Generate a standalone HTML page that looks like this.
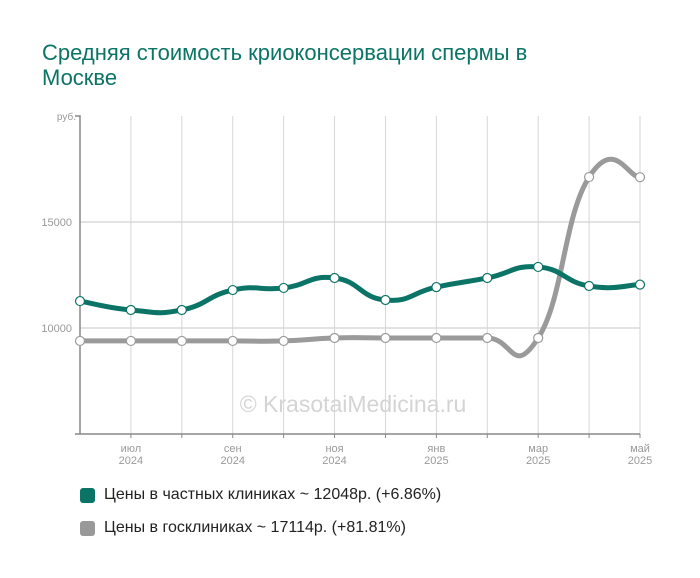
<!DOCTYPE html>
<html><head><meta charset="utf-8"><style>
body{margin:0;background:#fff;width:700px;height:578px;overflow:hidden;font-family:"Liberation Sans",sans-serif}
#title{position:absolute;left:42px;top:40px;width:545px;color:#0b7466;font-size:22px;line-height:25px;margin:0;font-weight:normal}
.leg{position:absolute;left:80px;font-size:16px;color:#222;display:flex;align-items:center}
.sw{width:15px;height:15px;border-radius:3px;margin-right:9px}
</style></head><body>
<h1 id="title">Средняя стоимость криоконсервации спермы в Москве</h1>
<svg id="chart" width="700" height="578" style="position:absolute;left:0;top:0"></svg>
<div class="leg" style="top:486px"><div class="sw" style="background:#0b7466"></div>Цены в частных клиниках ~ 12048р. (+6.86%)</div>
<div class="leg" style="top:519px"><div class="sw" style="background:#999"></div>Цены в госклиниках ~ 17114р. (+81.81%)</div>
<script>
const months = ["","июл","","сен","","ноя","","янв","","мар","","май"];
const years = ["","2024","","2024","","2024","","2025","","2025","","2025"];
const privateVals = [11270,10850,10850,11790,11890,12360,11320,11930,12360,12880,11980,12048];
const publicVals = [9390,9390,9390,9390,9390,9530,9530,9530,9530,9530,17120,17114];
const yTicks = [10000,15000];
const yMin=5000,yMax=20000,plotTop=116,plotBot=434,plotLeft=80,plotRight=640;
const X=i=>plotLeft+(plotRight-plotLeft)*i/(months.length-1);
const Y=v=>plotBot-(v-yMin)/(yMax-yMin)*(plotBot-plotTop);
const svg=document.getElementById('chart');const NS='http://www.w3.org/2000/svg';
function mk(t,a){const e=document.createElementNS(NS,t);for(const k in a)e.setAttribute(k,a[k]);svg.appendChild(e);return e;}
yTicks.forEach(v=>{const g=mk('line',{x1:plotLeft,x2:plotRight,y1:Y(v),y2:Y(v),stroke:'#e3e3e3','stroke-width':2});


const t=mk('text',{x:plotLeft-8,y:Y(v)+4,'text-anchor':'end','font-size':11,fill:'#999'});t.textContent=v;

});
for(let i=1;i<months.length;i++){const g=mk('line',{x1:X(i),x2:X(i),y1:plotTop,y2:plotBot,stroke:'#d6d6d6','stroke-width':1});


mk('line',{x1:X(i),x2:X(i),y1:plotBot,y2:plotBot+4,stroke:'#888'});
if(months[i]){const t=mk('text',{x:X(i),y:plotBot+18,'text-anchor':'middle','font-size':11,fill:'#999'});t.textContent=months[i];


const t2=mk('text',{x:X(i),y:plotBot+30,'text-anchor':'middle','font-size':11,fill:'#999'});t2.textContent=years[i];

}}
const ax=mk('path',{d:`M${plotLeft-5},${plotTop} H${plotLeft} V${plotBot} H${plotRight} M${plotLeft-5},${plotBot} H${plotLeft}`,stroke:'#888',fill:'none','stroke-width':1.5});


const yl=mk('text',{x:plotLeft-4,y:plotTop+4,'text-anchor':'end','font-size':10,fill:'#999'});yl.textContent='руб.';


const wm=mk('text',{x:353,y:412,'text-anchor':'middle','font-size':23,fill:'#d4d4d4'});wm.textContent='© KrasotaiMedicina.ru';


function spline(vals){const p=vals.map((v,i)=>[X(i),Y(v)]);let d=`M${p[0][0]},${p[0][1]}`;const k=4;
for(let i=0;i<p.length-1;i++){const p0=p[i-1]||p[i],p1=p[i],p2=p[i+1],p3=p[i+2]||p2;
const c1=[p1[0]+(p2[0]-p0[0])/k,p1[1]+(p2[1]-p0[1])/k],c2=[p2[0]-(p3[0]-p1[0])/k,p2[1]-(p3[1]-p1[1])/k];
d+=` C${c1[0]},${c1[1]} ${c2[0]},${c2[1]} ${p2[0]},${p2[1]}`;}return d;}
[[publicVals,'#9a9a9a','public'],[privateVals,'#0b7466','private']].forEach(([vals,c,n])=>{
const l=mk('path',{d:spline(vals),stroke:c,'stroke-width':5,fill:'none'});


vals.forEach((v,i)=>{const pt=mk('circle',{cx:X(i),cy:Y(v),r:4.5,fill:'#fff',stroke:c,'stroke-width':1.2});

});});
</script>
</body></html>
